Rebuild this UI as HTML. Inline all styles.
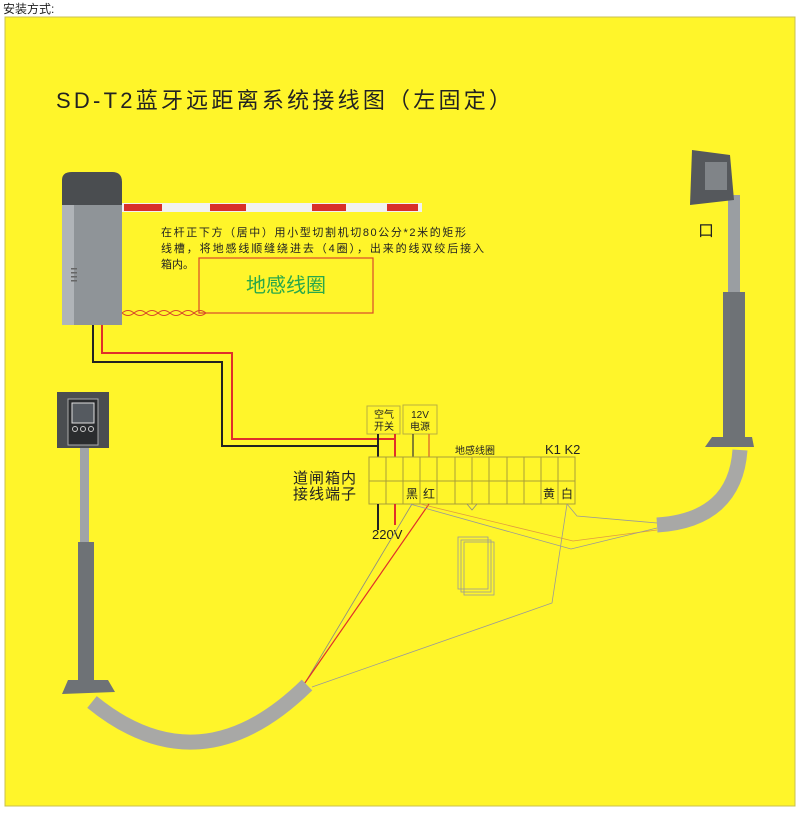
<!DOCTYPE html>
<html><head><meta charset="utf-8"><style>
body{margin:0;background:#fff;width:805px;height:816px;overflow:hidden;font-family:"Liberation Sans","Noto Sans CJK SC",sans-serif}
</style></head><body>
<svg width="805" height="816" viewBox="0 0 805 816" xmlns="http://www.w3.org/2000/svg" font-family="Liberation Sans, Noto Sans CJK SC, sans-serif">
<text x="3" y="13" font-size="12" fill="#222">安装方式:</text>
<rect x="5" y="17" width="790" height="789" fill="#fff52a" stroke="#c8c050" stroke-width="1"/>
<text x="56" y="108" font-size="22" fill="#222" textLength="455" lengthAdjust="spacing">SD-T2蓝牙远距离系统接线图（左固定）</text>
<!-- barrier cabinet -->
<rect x="62" y="205" width="60" height="120" fill="#8f9498"/>
<rect x="62" y="205" width="12" height="120" fill="#b0b4b8"/>
<path d="M62 205 L62 180 Q62 172 72 172 L112 172 Q122 172 122 182 L122 205 Z" fill="#4a4d50"/>
<g fill="#666"><rect x="71" y="268" width="6" height="1.5"/><rect x="71" y="272" width="6" height="1.5"/><rect x="71" y="276" width="6" height="1.5"/><rect x="71" y="280" width="6" height="1.5"/></g>
<rect x="122" y="203" width="300" height="9" fill="#f2f2f2"/>
<g fill="#d8302a"><rect x="124" y="204" width="38" height="7"/><rect x="210" y="204" width="36" height="7"/><rect x="312" y="204" width="34" height="7"/><rect x="387" y="204" width="31" height="7"/></g>
<g font-size="11" fill="#222"><text x="161" y="236" textLength="305" lengthAdjust="spacing">在杆正下方（居中）用小型切割机切80公分*2米的矩形</text>
<text x="161" y="252" textLength="323" lengthAdjust="spacing">线槽，将地感线顺缝绕进去（4圈），出来的线双绞后接入</text>
<text x="161" y="268">箱内。</text></g>
<rect x="199" y="258" width="174" height="55" fill="none" stroke="#d84a2a" stroke-width="1.2"/>
<text x="286" y="292" font-size="20" fill="#2aa84a" text-anchor="middle">地感线圈</text>
<path d="M122 313 q6 -5 12 0 q6 5 12 0 q6 -5 12 0 q6 5 12 0 q6 -5 12 0 q6 5 12 0 q6 -5 12 0 M122 313 q6 5 12 0 q6 -5 12 0 q6 5 12 0 q6 -5 12 0 q6 5 12 0 q6 -5 12 0 q6 5 12 0" stroke="#d84a2a" fill="none" stroke-width="1"/>
<!-- wires -->
<polyline points="93,325 93,362 222,362 222,446 378,446" fill="none" stroke="#222" stroke-width="2"/>
<polyline points="102,325 102,353 232,353 232,439 395,439" fill="none" stroke="#e0302a" stroke-width="2"/>
<g fill="none" stroke="#b8b040" stroke-width="1">
<rect x="367" y="406" width="33" height="28"/><rect x="403" y="405" width="34" height="29"/>
</g>
<g font-size="10" fill="#222" text-anchor="middle"><text x="384" y="418">空气</text><text x="384" y="430">开关</text><text x="420" y="418">12V</text><text x="420" y="430">电源</text></g>
<line x1="378" y1="434" x2="378" y2="457" stroke="#222" stroke-width="2"/>
<line x1="395" y1="434" x2="395" y2="457" stroke="#e0302a" stroke-width="2"/>
<line x1="413" y1="434" x2="413" y2="457" stroke="#333" stroke-width="1.2"/>
<line x1="429" y1="434" x2="429" y2="457" stroke="#e07a2a" stroke-width="1.5"/>
<!-- terminal block -->
<g fill="none" stroke="#a89e38" stroke-width="1">
<rect x="369" y="457" width="206" height="47"/><line x1="369" y1="481" x2="575" y2="481"/>
<line x1="386" y1="457" x2="386" y2="504"/><line x1="403" y1="457" x2="403" y2="504"/><line x1="420" y1="457" x2="420" y2="504"/><line x1="437" y1="457" x2="437" y2="504"/><line x1="455" y1="457" x2="455" y2="504"/><line x1="472" y1="457" x2="472" y2="504"/><line x1="489" y1="457" x2="489" y2="504"/><line x1="507" y1="457" x2="507" y2="504"/><line x1="524" y1="457" x2="524" y2="504"/><line x1="541" y1="457" x2="541" y2="504"/><line x1="558" y1="457" x2="558" y2="504"/>
</g>
<g font-size="12" fill="#222" text-anchor="middle"><text x="412" y="498">黑</text><text x="429" y="498">红</text><text x="549" y="498">黄</text><text x="567" y="498">白</text></g>
<text x="455" y="454" font-size="10" fill="#222">地感线圈</text>
<text x="545" y="454" font-size="13" fill="#222">K1 K2</text>
<text x="293" y="483" font-size="15" fill="#222" letter-spacing="1">道闸箱内</text>
<text x="293" y="499" font-size="15" fill="#222" letter-spacing="1">接线端子</text>
<line x1="378" y1="504" x2="378" y2="530" stroke="#222" stroke-width="2"/>
<line x1="395" y1="504" x2="395" y2="525" stroke="#e0302a" stroke-width="2"/>
<text x="372" y="539" font-size="13" fill="#222">220V</text>
<!-- thin lines -->
<g fill="none" stroke-width="0.8">
<polyline points="412,504 302,688" stroke="#888"/>
<polyline points="429,504 300,690" stroke="#e0302a" stroke-width="1.2"/>
<polyline points="420,504 573,541 657,530" stroke="#e09a40"/>
<polyline points="410,504 571,549 657,528" stroke="#999"/>
<polyline points="567,504 552,603 312,687" stroke="#999"/>
<polyline points="567,504 577,516 657,523" stroke="#999"/>
<polyline points="467,504 472,510 477,504 M472,510 L472,537" stroke="#888"/>
<rect x="458" y="537" width="30" height="52" stroke="#999"/><rect x="461" y="540" width="30" height="52" stroke="#999"/><rect x="464" y="542" width="30" height="53" stroke="#999"/>
</g>
<!-- right stand -->
<rect x="728" y="195" width="12" height="100" fill="#9a9ea2"/>
<rect x="723" y="292" width="22" height="146" fill="#6e7276"/>
<path d="M712 437 L752 437 L754 447 L705 447 Z" fill="#6e7276"/>
<path d="M692 150 L730 155 L734 200 L690 205 Z" fill="#55585c"/><rect x="705" y="162" width="22" height="28" fill="#808488"/>
<text x="698" y="236" font-size="16" fill="#222">口</text>
<path d="M740 450 Q735 520 657 525" fill="none" stroke="#a8a8a6" stroke-width="15"/>
<!-- left stand -->
<rect x="57" y="392" width="52" height="56" fill="#4a4d50"/>
<rect x="68" y="399" width="30" height="46" fill="#2a2c2e" stroke="#aaa" stroke-width="1"/>
<rect x="72" y="403" width="22" height="20" fill="#555a60" stroke="#ddd"/>
<g fill="none" stroke="#ccc"><circle cx="75" cy="429" r="2.5"/><circle cx="83" cy="429" r="2.5"/><circle cx="91" cy="429" r="2.5"/></g>
<rect x="80" y="448" width="9" height="100" fill="#a0a4a8"/>
<rect x="78" y="542" width="16" height="140" fill="#6e7276"/>
<path d="M68 680 L108 680 L115 692 L62 694 Z" fill="#6e7276"/>
<path d="M92 702 Q200 790 307 685" fill="none" stroke="#a8a8a6" stroke-width="15"/>
</svg>
</body></html>
